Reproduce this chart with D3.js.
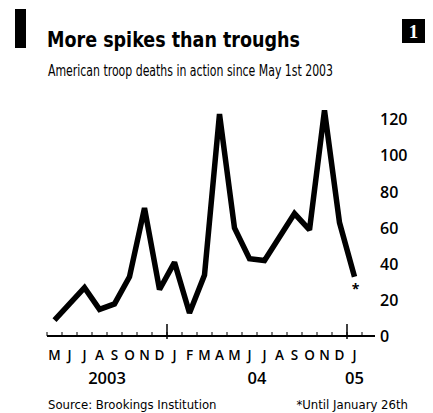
<!DOCTYPE html>
<html>
<head>
<meta charset="utf-8">
<script src="https://cdn.jsdelivr.net/npm/d3@7"></script>
<style>
  body { margin: 0; background: #fff; }
  svg { display: block; }
</style>
</head>
<body>
<svg id="chart" width="433" height="413"></svg>
<script>
// Monthly US troop deaths in action, May 2003 to January 2005 (*until Jan 26th)
const months = ["M","J","J","A","S","O","N","D","J","F","M","A","M","J","J","A","S","O","N","D","J"];
const deaths = [9, 18, 27, 15, 18, 33, 71, 26, 41, 13, 34, 123, 60, 43, 42, 55, 68, 59, 125, 63, 33];
const yTicks = [0, 20, 40, 60, 80, 100, 120];
const yearLabels = ["2003", "04", "05"];
const yearFirstMonth = [0, 8, 20];
const yearLastMonth = [7, 19, 20];

const svg = d3.select("#chart");
const narrow = "'DejaVu Sans Condensed', 'DejaVu Sans', sans-serif";
const labelFont = "'Open Sans', 'Liberation Sans', sans-serif";

const x = d3.scaleBand().domain(d3.range(months.length)).range([47, 362]).padding(0);
const y = d3.scaleLinear().domain([0, 120]).range([336.5, 119.5]);
const cx = i => x(i) + x.bandwidth() / 2;

// Header: black tab, title, subtitle, chart number box
svg.append("rect").attr("x", 15).attr("y", 9).attr("width", 11).attr("height", 39).attr("fill", "#000");
svg.append("text").attr("x", 47).attr("y", 47)
  .attr("font-family", narrow).attr("font-weight", "bold").attr("font-size", 21)
  .attr("textLength", 253).attr("lengthAdjust", "spacingAndGlyphs")
  .text("More spikes than troughs");
svg.append("text").attr("x", 48).attr("y", 76)
  .attr("font-family", narrow).attr("font-size", 16)
  .attr("textLength", 285).attr("lengthAdjust", "spacingAndGlyphs")
  .text("American troop deaths in action since May 1st 2003");
svg.append("rect").attr("x", 402).attr("y", 19).attr("width", 23).attr("height", 24).attr("fill", "#000");
svg.append("text").attr("x", 413.5).attr("y", 38).attr("text-anchor", "middle")
  .attr("font-family", "'Liberation Serif', serif").attr("font-weight", "bold").attr("font-size", 19)
  .attr("fill", "#fff").text("1");

// Value labels on the right
svg.append("g").selectAll("text").data(yTicks).join("text")
  .attr("x", 380).attr("y", d => y(d)).attr("dy", "0.36em")
  .attr("font-family", labelFont).attr("font-weight", 600).attr("font-size", 16).attr("fill", "#000")
  .text(d => d);

// Baseline, month ticks and year dividers
const axis = svg.append("g");
axis.append("line").attr("x1", 47).attr("x2", 375).attr("y1", 336).attr("y2", 336)
  .attr("stroke", "#000").attr("stroke-width", 2);
axis.selectAll("line.tick").data(d3.range(months.length + 1)).join("line")
  .attr("class", "tick")
  .attr("x1", i => 47 + i * x.step()).attr("x2", i => 47 + i * x.step())
  .attr("y1", 332).attr("y2", 336).attr("stroke", "#000").attr("stroke-width", 1);
axis.selectAll("line.year").data(yearFirstMonth.slice(1)).join("line")
  .attr("class", "year")
  .attr("x1", i => x(i)).attr("x2", i => x(i))
  .attr("y1", 324).attr("y2", 339).attr("stroke", "#000").attr("stroke-width", 1.5);

// Month initials
svg.append("g").selectAll("text").data(months).join("text")
  .attr("x", (d, i) => cx(i)).attr("y", 360).attr("text-anchor", "middle")
  .attr("font-family", labelFont).attr("font-size", 13.5).attr("font-weight", 600).text(d => d);

// Year labels centred under their months
svg.append("g").selectAll("text").data(yearLabels).join("text")
  .attr("x", (d, i) => (cx(yearFirstMonth[i]) + cx(yearLastMonth[i])) / 2)
  .attr("y", 384).attr("text-anchor", "middle")
  .attr("font-family", labelFont).attr("font-weight", 600).attr("font-size", 16.5).text(d => d);

// The series
const line = d3.line().x((d, i) => cx(i)).y(d => y(d));
svg.append("path").datum(deaths).attr("d", line)
  .attr("fill", "none").attr("stroke", "#000").attr("stroke-width", 5.5)
  .attr("stroke-linejoin", "miter").attr("stroke-miterlimit", 2);

// Asterisk marking the partial final month
svg.append("text").attr("x", cx(deaths.length - 1) + 1).attr("y", 294)
  .attr("text-anchor", "middle").attr("font-family", labelFont).attr("font-weight", "bold")
  .attr("font-size", 14).text("*");

// Footer
svg.append("text").attr("x", 48).attr("y", 409)
  .attr("font-family", narrow).attr("font-size", 13).text("Source: Brookings Institution");
svg.append("text").attr("x", 408).attr("y", 409).attr("text-anchor", "end")
  .attr("font-family", narrow).attr("font-size", 13).text("*Until January 26th");
</script>
</body>
</html>
